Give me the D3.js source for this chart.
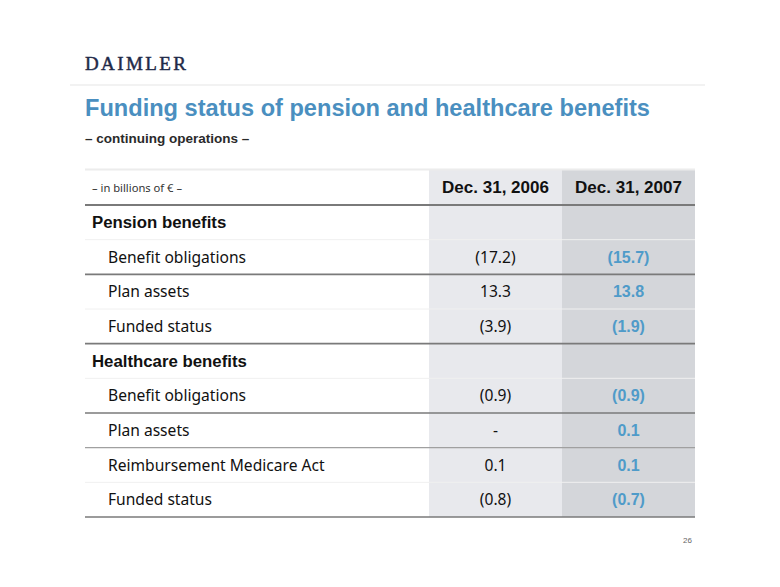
<!DOCTYPE html>
<html><head><meta charset="utf-8">
<script src="https://cdn.jsdelivr.net/npm/d3@7"></script>
<style>body{margin:0;background:#fff}svg{display:block}</style>
</head><body><svg id="c" width="780" height="587"></svg>
<script>
const title = "Funding status of pension and healthcare benefits";
const subtitle = "– continuing operations –";
const unitLabel = "– in billions of € –";
const columns = ["Dec. 31, 2006", "Dec. 31, 2007"];
const rowLabels = ["Pension benefits","Benefit obligations","Plan assets","Funded status","Healthcare benefits","Benefit obligations","Plan assets","Reimbursement Medicare Act","Funded status"];
const rowIsSection = [true,false,false,false,true,false,false,false,false];
const values2006 = ["", "(17.2)", "13.3", "(3.9)", "", "(0.9)", "-", "0.1", "(0.8)"];
const values2007 = ["", "(15.7)", "13.8", "(1.9)", "", "(0.9)", "0.1", "0.1", "(0.7)"];
// separator under each row: 0 faint, 1 medium, 2 dark
const rowRule = [0,2,0,2,0,2,1,0,2];

const svg = d3.select("#c");
const body = "'Noto Sans', 'Open Sans', sans-serif";
const head = "'Liberation Sans', Arial, sans-serif";

// logo
svg.append("text").attr("x",85).attr("y",70).text("DAIMLER")
  .attr("font-family","'Liberation Serif', 'DejaVu Serif', serif").attr("font-size",19)
  .attr("letter-spacing",2.4).attr("fill","#1f2a48").attr("stroke","#1f2a48").attr("stroke-width",0.45);
svg.append("line").attr("x1",70).attr("x2",705).attr("y1",85).attr("y2",85).attr("stroke","#eeeeee").attr("stroke-width",1.5);

svg.append("text").attr("x",85).attr("y",116).text(title)
  .attr("font-family",head).attr("font-weight","bold").attr("font-size",23.6).attr("fill","#4a8fc0");
svg.append("text").attr("x",85).attr("y",143).text(subtitle)
  .attr("font-family",head).attr("font-weight","bold").attr("font-size",13.5).attr("fill","#2a2a2a");

const left = 85, right = 695;
const x = d3.scaleBand().domain(columns).range([429, right]);
const y = d3.scaleBand().domain(d3.range(rowLabels.length)).range([205, 517]);
const headTop = 170;

// column shading
const shade = ["#e8e9ed", "#d4d6da"];
svg.selectAll("rect.col").data(columns).join("rect")
  .attr("x", d => x(d)).attr("width", x.bandwidth())
  .attr("y", headTop).attr("height", y.range()[1]-headTop)
  .attr("fill", (d,i) => shade[i]);

// top faint line
svg.append("line").attr("x1",left).attr("x2",right).attr("y1",headTop-0.5).attr("y2",headTop-0.5)
  .attr("stroke","#ececec").attr("stroke-width",2);

// header text
svg.append("text").attr("x",92).attr("y",192).text(unitLabel)
  .attr("font-family",body).attr("font-size",11.2).attr("fill","#333");
svg.selectAll("text.colh").data(columns).join("text")
  .attr("x", d => x(d)+x.bandwidth()/2).attr("y",193).attr("text-anchor","middle")
  .attr("font-family",head).attr("font-weight","bold").attr("font-size",17).attr("fill","#111").text(d=>d);

// header rule
svg.append("line").attr("x1",left).attr("x2",right).attr("y1",205).attr("y2",205).attr("stroke","#7a7a7a").attr("stroke-width",2);

// row rules
const ruleStyle = [{c:"#f0f0f0",w:1},{c:"#a0a0a0",w:1.2},{c:"#7a7a7a",w:1.6}];
svg.selectAll("line.rr").data(rowLabels).join("line")
  .attr("x1",left).attr("x2",right)
  .attr("y1",(d,i)=>y(i)+y.bandwidth()).attr("y2",(d,i)=>y(i)+y.bandwidth())
  .attr("stroke",(d,i)=>ruleStyle[rowRule[i]].c).attr("stroke-width",(d,i)=>ruleStyle[rowRule[i]].w);

// row labels
svg.selectAll("text.rl").data(rowLabels).join("text")
  .attr("x",(d,i)=> rowIsSection[i] ? 92 : 108)
  .attr("y",(d,i)=>y(i)+y.bandwidth()/2+5.5)
  .attr("font-family",(d,i)=> rowIsSection[i] ? head : body)
  .attr("font-weight",(d,i)=> rowIsSection[i] ? "bold" : "normal")
  .attr("font-size",(d,i)=> rowIsSection[i] ? 16.8 : 15.6)
  .attr("fill","#111").text(d=>d);

// values
svg.selectAll("text.v6").data(values2006).join("text")
  .attr("x", x(columns[0])+x.bandwidth()/2).attr("text-anchor","middle")
  .attr("y",(d,i)=>y(i)+y.bandwidth()/2+5.5)
  .attr("font-family",body).attr("font-size",15.6).attr("fill","#111").text(d=>d);
svg.selectAll("text.v7").data(values2007).join("text")
  .attr("x", x(columns[1])+x.bandwidth()/2).attr("text-anchor","middle")
  .attr("y",(d,i)=>y(i)+y.bandwidth()/2+5.5)
  .attr("font-family",head).attr("font-weight","bold").attr("font-size",16).attr("fill","#4f9bc9").text(d=>d);

svg.append("text").attr("x",692).attr("y",543).attr("text-anchor","end").text("26")
  .attr("font-family",head).attr("font-size",8).attr("fill","#666");
</script></body></html>
